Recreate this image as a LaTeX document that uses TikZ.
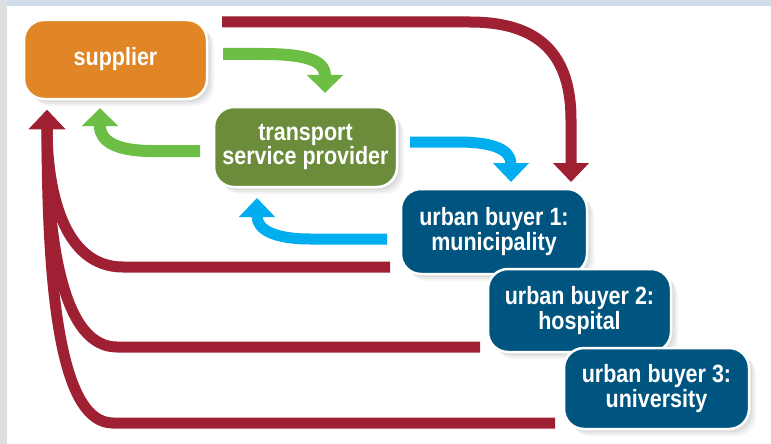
\documentclass[tikz,border=0pt]{standalone}
\usepackage{fontspec}
\newfontfamily\labfont{Liberation Sans}[FakeStretch=0.86]
\usetikzlibrary{arrows.meta,shadows}
\definecolor{bgleft}{HTML}{DCDFE2}
\definecolor{bgtop}{HTML}{D0DDE9}
\definecolor{suporange}{HTML}{E08627}
\definecolor{tspgreen}{HTML}{6B8C3A}
\definecolor{buyblue}{HTML}{005580}
\definecolor{flowred}{HTML}{9F2032}
\definecolor{flowgreen}{HTML}{6CBE45}
\definecolor{flowblue}{HTML}{00AEEF}
\begin{document}
\begin{tikzpicture}[x=1pt,y=-1pt,
  box/.style={draw=white, line width=2.5pt, rounded corners=20pt, text=white,
    align=center, inner sep=0pt,
    font=\labfont\bfseries\fontsize{25}{23}\selectfont,
    drop shadow={opacity=0.08,shadow xshift=7pt,shadow yshift=-7pt},
    drop shadow={opacity=0.10,shadow xshift=5pt,shadow yshift=-5pt},
    drop shadow={opacity=0.12,shadow xshift=3pt,shadow yshift=-3pt}},
  redflow/.style={draw=flowred, line width=11pt, -{Triangle[width=35pt,length=19pt]}},
  greenflow/.style={draw=flowgreen, line width=12pt, -{Triangle[width=35pt,length=18pt]}},
  blueflow/.style={draw=flowblue, line width=11pt, -{Triangle[width=35pt,length=19pt]}}]
\useasboundingbox (0,0) rectangle (771,444);
\fill[bgleft] (0,0) rectangle (7,444);
\fill[bgtop] (7,0) rectangle (771,6);
\fill[white] (7,6) rectangle (771,444);

% nodes
\node[box, fill=suporange, minimum width=183pt, minimum height=79pt] (sup) at (115.5,59.5) {supplier};
\node[box, fill=tspgreen, minimum width=183pt, minimum height=80pt] (tsp) at (305.5,147) {transport\\service provider};
\node[box, fill=buyblue, minimum width=186pt, minimum height=85pt] (ub1) at (494,231.5) {urban buyer 1:\\municipality};
\node[box, fill=buyblue, minimum width=183pt, minimum height=83pt] (ub2) at (579.5,310.5) {urban buyer 2:\\hospital};
\node[box, fill=buyblue, minimum width=185pt, minimum height=81pt] (ub3) at (656.5,388.5) {urban buyer 3:\\university};

% connector end points
\coordinate (supR) at (222,22);
\coordinate (ub1tip) at (571,182);
\coordinate (supG) at (223,54);
\coordinate (tspGtip) at (325,93);
\coordinate (tspG) at (200,151);
\coordinate (supGtip) at (100,108);
\coordinate (tspB) at (410,142);
\coordinate (ub1Btip) at (511,182);
\coordinate (ub1B) at (387,239);
\coordinate (tspBtip) at (257,198);
\coordinate (ub1R) at (390,267);
\coordinate (ub2R) at (480,347);
\coordinate (ub3R) at (555,423);
\coordinate (supRtip) at (47,110);

% supplier -> urban buyers (red, top)
\draw[redflow] (supR) -- (470,22) .. controls (540,22) and (571,55) .. (571,120) -- (ub1tip);
% supplier -> transport (green)
\draw[greenflow] (supG) -- (262,54) .. controls (305,54) and (325,60) .. (325,76) -- (tspGtip);
% transport -> supplier (green)
\draw[greenflow] (tspG) -- (152,151) .. controls (118,151) and (100,142) .. (100,126) -- (supGtip);
% transport -> buyer 1 (blue)
\draw[blueflow] (tspB) -- (458,142) .. controls (494,142) and (511,150) .. (511,164) -- (ub1Btip);
% buyer 1 -> transport (blue)
\draw[blueflow] (ub1B) -- (310,239) .. controls (275,239) and (257,230) .. (257,216) -- (tspBtip);
% buyers -> supplier (red returns)
\draw[redflow] (ub3R) -- (113,423) .. controls (62,423) and (47,300) .. (47,127) -- (supRtip);
\draw[redflow] (ub2R) -- (117,347) .. controls (65,347) and (47,250) .. (47,127) -- (supRtip);
\draw[redflow] (ub1R) -- (123,267) .. controls (63,267) and (47,190) .. (47,127) -- (supRtip);
\end{tikzpicture}
\end{document}
